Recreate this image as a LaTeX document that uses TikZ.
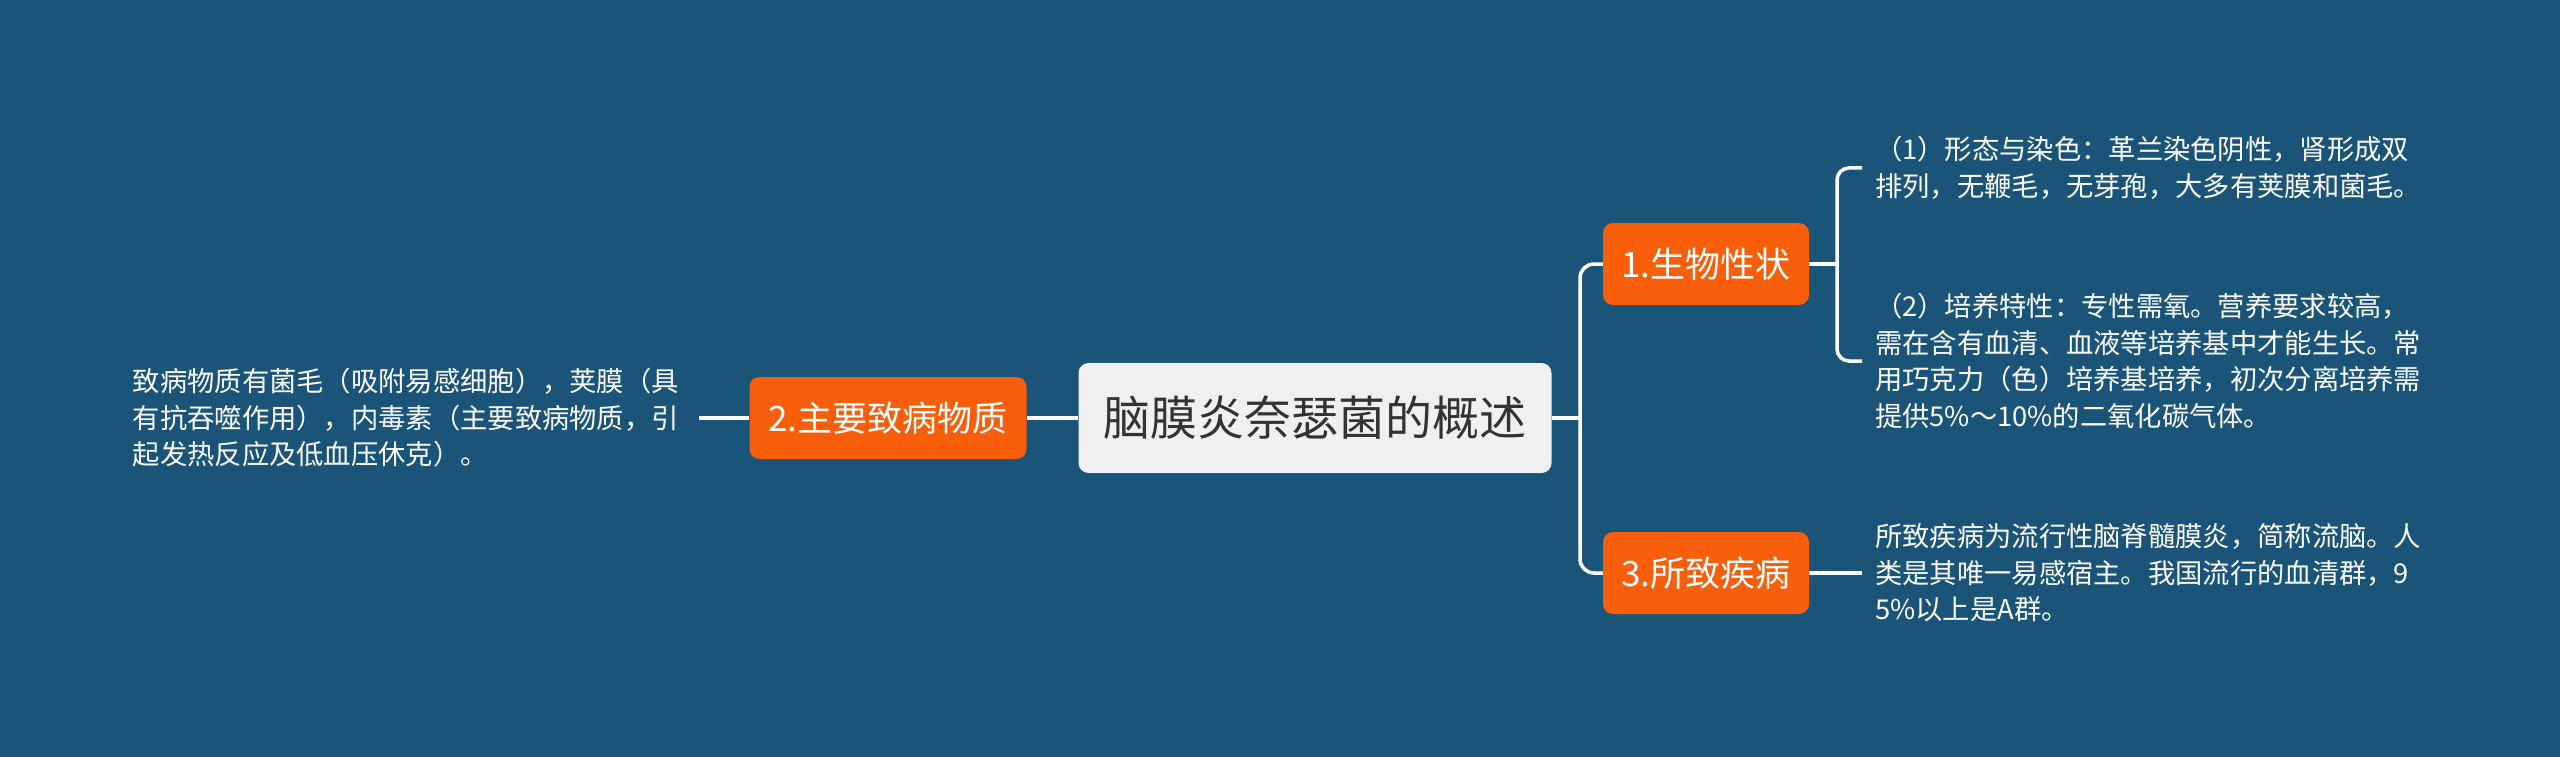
\documentclass[tikz,border=0pt]{standalone}
\usepackage{fontspec}
\newfontfamily\cjk{Noto Sans CJK SC}
\definecolor{bgblue}{RGB}{26,84,120}
\definecolor{orng}{RGB}{249,94,10}
\definecolor{cgray}{RGB}{240,240,240}
\definecolor{ctext}{RGB}{51,51,51}
\tikzset{
  conn/.style={draw=white, line width=3.5pt},
  topicbox/.style={fill=orng, rounded corners=10pt, text=white, font=\cjk\fontsize{35}{40}\selectfont, minimum height=82pt, inner sep=0pt},
  centerbox/.style={fill=cgray, rounded corners=10pt, text=ctext, font=\cjk\fontsize{47}{52}\selectfont, minimum width=473pt, minimum height=110pt, inner sep=0pt},
  leaftext/.style={text=white, font=\cjk\fontsize{27.3}{36.5}\selectfont, align=left, inner ysep=0pt}
}
\begin{document}
\begin{tikzpicture}[x=1pt,y=-1pt]
\fill[bgblue] (0,0) rectangle (2560,757);
\useasboundingbox (0,0) rectangle (2560,757);

\node[centerbox] (c) at (1315,418) {脑膜炎奈瑟菌的概述};
\node[topicbox, minimum width=206pt] (n1) at (1706,264) {1.生物性状};
\node[topicbox, minimum width=277pt] (n2) at (888,418) {2.主要致病物质};
\node[topicbox, minimum width=206pt] (n3) at (1706,573) {3.所致疾病};

\node[leaftext, anchor=west, inner xsep=13pt] (l1) at (1862,168)
  {（1）形态与染色：革兰染色阴性，肾形成双\\排列，无鞭毛，无芽孢，大多有荚膜和菌毛。};
\node[leaftext, anchor=west, inner xsep=13pt] (l2) at (1862,361)
  {（2）培养特性：专性需氧。营养要求较高，\\需在含有血清、血液等培养基中才能生长。常\\用巧克力（色）培养基培养，初次分离培养需\\提供5\%～10\%的二氧化碳气体。};
\node[leaftext, anchor=west, inner xsep=13pt] (l3) at (1862,573)
  {所致疾病为流行性脑脊髓膜炎，简称流脑。人\\类是其唯一易感宿主。我国流行的血清群，9\\5\%以上是A群。};
\node[leaftext, anchor=east, inner xsep=20pt] (l0) at (699,418)
  {致病物质有菌毛（吸附易感细胞），荚膜（具\\有抗吞噬作用），内毒素（主要致病物质，引\\起发热反应及低血压休克）。};

% connectors
\coordinate (j) at (1580,418);
\draw[conn] (c.east) -- (j);
\draw[conn, rounded corners=14pt] (j) |- (n1.west);
\draw[conn, rounded corners=14pt] (j) |- (n3.west);
\draw[conn] (c.west) -- (n2.east);
\draw[conn] (n2.west) -- (l0.east);

\coordinate (b) at (1837,264);
\draw[conn] (n1.east) -- (b);
\draw[conn, rounded corners=12pt] (l1.west) -| (b) |- (l2.west);
\draw[conn] (n3.east) -- (l3.west);
\end{tikzpicture}
\end{document}
